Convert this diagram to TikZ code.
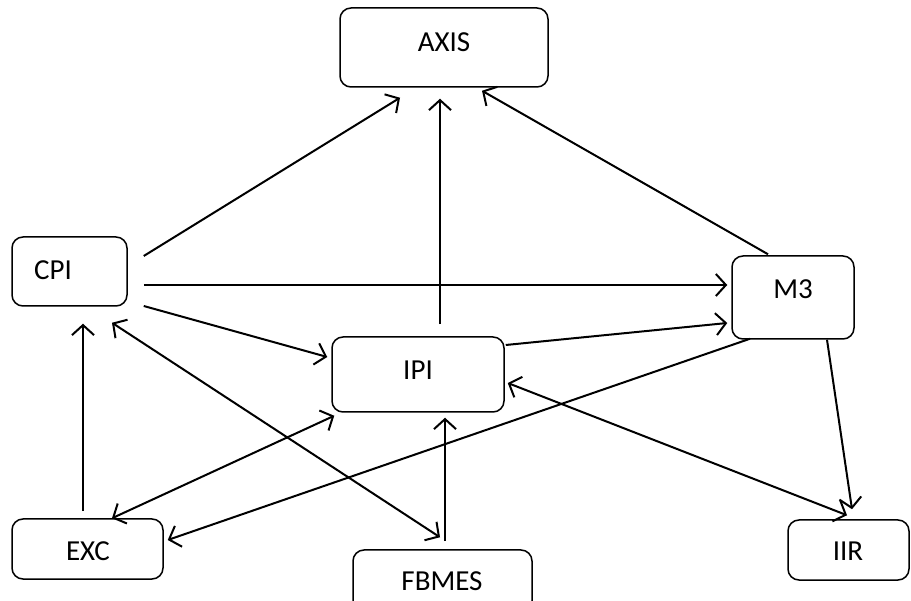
\documentclass[tikz,border=0pt]{standalone}
\usepackage{fontspec}
\setmainfont{Carlito}
\usetikzlibrary{arrows.meta,calc}
\begin{document}
\begin{tikzpicture}[x=1pt,y=-1pt,
  box/.style={draw=black,line width=1.5pt,rounded corners=11pt,inner sep=0pt},
  lbl/.style={inner sep=0pt,font=\fontsize{29}{32}\selectfont},
  tip/.style={},
  conn/.style={line width=2pt,-{Straight Barb[length=10pt,width=22pt,line width=2pt]}},
  both/.style={line width=2pt,{Straight Barb[length=10pt,width=22pt,line width=2pt]}-{Straight Barb[length=10pt,width=22pt,line width=2pt]}}]
\clip (0,0) rectangle (911,601);
\fill[white] (0,0) rectangle (911,601);
% boxes
\node[box,minimum width=208pt,minimum height=79pt] (axis) at (444,47.5) {};
\node[box,minimum width=115pt,minimum height=69pt] (cpi) at (69.5,271.5) {};
\node[box,minimum width=122pt,minimum height=83pt] (m3) at (793,297.5) {};
\node[box,minimum width=172pt,minimum height=75pt] (ipi) at (418,374.5) {};
\node[box,minimum width=151pt,minimum height=60pt] (exc) at (87.5,549) {};
\node[box,minimum width=179pt,minimum height=62pt] (fbmes) at (442.5,581) {};
\node[box,minimum width=121pt,minimum height=60pt] (iir) at (848.5,550) {};
% labels
\node[lbl] (axisT) at (444,42) {AXIS};
\node[lbl] (cpiT) at (53,270) {CPI};
\node[lbl] (m3T) at (793,289) {M3};
\node[lbl] (ipiT) at (418,370) {IPI};
\node[lbl] (excT) at (88,551) {EXC};
\node[lbl] (fbmesT) at (442,581) {FBMES};
\node[lbl] (iirT) at (848,551) {IIR};
% connectors
\draw[conn] ($(cpi.east)+(16,-15.5)$) -- ($(axis.south)+(-44,10)$);
\draw[conn] ($(ipi.north)+(22,-12)$) -- ($(axis.south)+(-4,11)$);
\draw[conn] ($(m3.north)+(-25,-1)$) -- ($(axis.south)+(38,3)$);
\draw[conn] ($(cpi.east)+(16,13.5)$) -- ($(m3.west)+(-4,-12.5)$);
\draw[conn] ($(cpi.east)+(16,34.5)$) -- ($(ipi.west)+(-4,-17.5)$);
\draw[conn] ($(ipi.east)+(1,-29.5)$) -- ($(m3.west)+(-4,25.5)$);
\draw[conn] ($(m3.south)+(-43,-1)$) -- ($(exc.east)+(4,-9)$);
\draw[conn] ($(exc.north)+(-4.5,-7)$) -- ($(cpi.south)+(13.5,17)$);
\draw[both] ($(cpi.south)+(42.5,16)$) -- ($(fbmes.north)+(-2.5,-12)$);
\draw[both] ($(exc.north)+(24.5,0)$) -- ($(ipi.south west)+(3,3)$);
\draw[both] ($(ipi.east)+(3,8.5)$) -- ($(iir.north)+(-1.5,-4)$);
\draw[conn] ($(m3.south)+(34,0)$) -- ($(iir.north)+(3.5,-10)$);
\draw[conn] ($(fbmes.north)+(2.5,-8)$) -- ($(ipi.south)+(27,5)$);
\end{tikzpicture}
\end{document}
